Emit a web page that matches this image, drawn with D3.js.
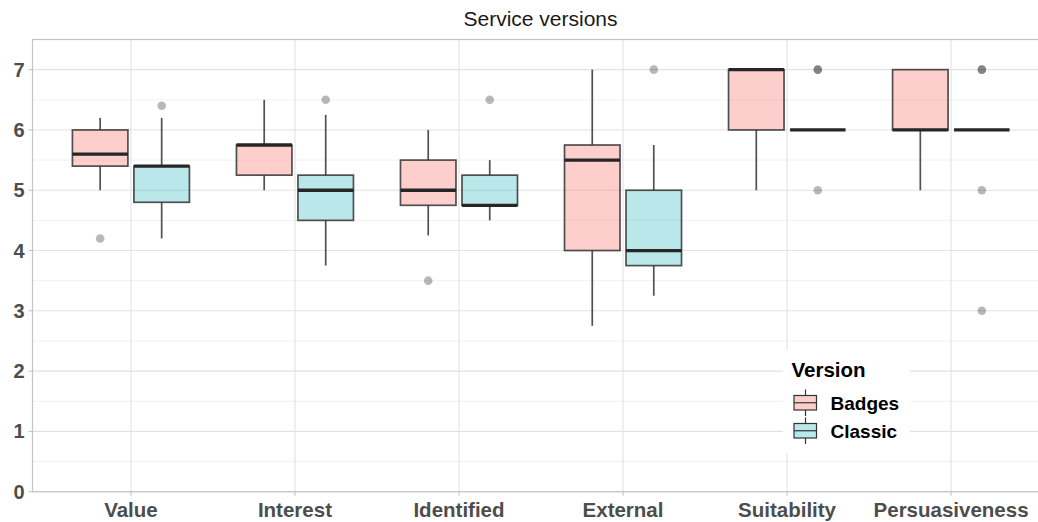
<!DOCTYPE html>
<html>
<head>
<meta charset="utf-8">
<script src="https://cdn.jsdelivr.net/npm/d3@7"></script>
<style>
  body { margin: 0; background: #fff; }
  svg { display: block; font-family: "Liberation Sans", Arial, sans-serif; }
</style>
</head>
<body>
<svg id="chart" width="1038" height="522"></svg>
<script>
// categories and groups
const categories = ["Value", "Interest", "Identified", "External", "Suitability", "Persuasiveness"];
const versions = ["Badges", "Classic"];
const yTicks = [0, 1, 2, 3, 4, 5, 6, 7];

// box stats per category: [lower whisker, Q1, median, Q3, upper whisker]
const badgesStats = [
    [5.0, 5.4, 5.6, 6.0, 6.2],
    [5.0, 5.25, 5.75, 5.75, 6.5],
    [4.25, 4.75, 5.0, 5.5, 6.0],
    [2.75, 4.0, 5.5, 5.75, 7.0],
    [5.0, 6.0, 7.0, 7.0, 7.0],
    [5.0, 6.0, 6.0, 7.0, 7.0]
];
const classicStats = [
    [4.2, 4.8, 5.4, 5.4, 6.2],
    [3.75, 4.5, 5.0, 5.25, 6.25],
    [4.5, 4.75, 4.75, 5.25, 5.5],
    [3.25, 3.75, 4.0, 5.0, 5.75],
    [6.0, 6.0, 6.0, 6.0, 6.0],
    [6.0, 6.0, 6.0, 6.0, 6.0]
];
const badgesOutliers = [[4.2], [], [3.5], [], [], []];
const classicOutliers = [[6.4], [6.5], [6.5], [7.0], [7.0, 7.0, 5.0], [7.0, 7.0, 5.0, 3.0]];

const fills = { Badges: "rgba(248,118,109,0.35)", Classic: "rgba(0,170,178,0.27)" };

const svg = d3.select("#chart");
const panel = { left: 32.5, right: 1049.5, top: 39.5, bottom: 491.7 };

const x = d3.scalePoint().domain(categories).range([panel.left, panel.right]).padding(0.6);
const y = d3.scaleLinear().domain([0, 7.5]).range([panel.bottom, panel.top]);
const step = x.step();
const dodge = step * 0.75 / 4;
const boxW = 55.5;

// grid
const grid = svg.append("g");
d3.range(0.5, 7.5, 1).forEach(v => {
    grid.append("line").attr("x1", panel.left).attr("x2", panel.right)
        .attr("y1", y(v)).attr("y2", y(v)).attr("stroke", "#eeeeee").attr("stroke-width", 0.8);
});
yTicks.forEach(v => {
    grid.append("line").attr("x1", panel.left).attr("x2", panel.right)
        .attr("y1", y(v)).attr("y2", y(v)).attr("stroke", "#e2e2e2").attr("stroke-width", 1.1);
});
categories.forEach(c => {
    grid.append("line").attr("x1", x(c)).attr("x2", x(c))
        .attr("y1", panel.top).attr("y2", panel.bottom).attr("stroke", "#e2e2e2").attr("stroke-width", 1.1);
});

// panel border
svg.append("rect").attr("x", panel.left).attr("y", panel.top)
    .attr("width", panel.right - panel.left).attr("height", panel.bottom - panel.top)
    .attr("fill", "none").attr("stroke", "#c4c4c4").attr("stroke-width", 1.2);

// boxes
const series = [
    { name: "Badges", stats: badgesStats, outliers: badgesOutliers, off: -dodge },
    { name: "Classic", stats: classicStats, outliers: classicOutliers, off: dodge }
];
const boxG = svg.append("g");
series.forEach(s => {
    categories.forEach((c, i) => {
        const [lo, q1, med, q3, hi] = s.stats[i];
        const cx = x(c) + s.off;
        const g = boxG.append("g");
        g.append("line").attr("x1", cx).attr("x2", cx).attr("y1", y(q3)).attr("y2", y(hi))
            .attr("stroke", "#333").attr("stroke-width", 1.7).attr("stroke-opacity", 0.85);
        g.append("line").attr("x1", cx).attr("x2", cx).attr("y1", y(q1)).attr("y2", y(lo))
            .attr("stroke", "#333").attr("stroke-width", 1.7).attr("stroke-opacity", 0.85);
        g.append("rect").attr("x", cx - boxW / 2).attr("y", y(q3))
            .attr("width", boxW).attr("height", Math.max(0, y(q1) - y(q3)))
            .attr("fill", fills[s.name]).attr("stroke", "#333").attr("stroke-opacity", 0.85)
            .attr("stroke-width", 1.7);
        g.append("line").attr("x1", cx - boxW / 2).attr("x2", cx + boxW / 2)
            .attr("y1", y(med)).attr("y2", y(med))
            .attr("stroke", "#262626").attr("stroke-width", 3.3);
        s.outliers[i].forEach(v => {
            g.append("circle").attr("cx", cx).attr("cy", y(v)).attr("r", 4.3)
                .attr("fill", "#000").attr("fill-opacity", 0.28);
        });
    });
});

// y axis
const yAxis = svg.append("g");
yTicks.forEach(v => {
    yAxis.append("line").attr("x1", panel.left - 4).attr("x2", panel.left)
        .attr("y1", y(v)).attr("y2", y(v)).attr("stroke", "#c4c4c4").attr("stroke-width", 1.1);
    yAxis.append("text").attr("x", 24.5).attr("y", y(v) + 7)
        .attr("text-anchor", "end").attr("font-size", 20).attr("font-weight", "bold")
        .attr("fill", "#4d4d4d").text(v);
});

// x axis
const xAxis = svg.append("g");
categories.forEach(c => {
    xAxis.append("line").attr("x1", x(c)).attr("x2", x(c))
        .attr("y1", panel.bottom).attr("y2", panel.bottom + 4).attr("stroke", "#c4c4c4").attr("stroke-width", 1.1);
    xAxis.append("text").attr("x", x(c)).attr("y", 516.5)
        .attr("text-anchor", "middle").attr("font-size", 20.5).attr("font-weight", "bold")
        .attr("fill", "#4d4d4d").text(c);
});

// title
svg.append("text").attr("x", 540.5).attr("y", 26).attr("text-anchor", "middle")
    .attr("font-size", 21).attr("fill", "#1a1a1a").text("Service versions");

// legend
const lg = svg.append("g").attr("transform", "translate(783,350)");
lg.append("rect").attr("width", 127).attr("height", 103).attr("fill", "#fff");
lg.append("text").attr("x", 8.5).attr("y", 26.7).attr("font-size", 20.5).attr("font-weight", "bold")
    .attr("fill", "#000").text("Version");
versions.forEach((v, i) => {
    const ky = 45.5 + i * 28;
    const k = lg.append("g").attr("transform", `translate(11,${ky})`);
    k.append("line").attr("x1", 11.5).attr("x2", 11.5).attr("y1", -6).attr("y2", 20.5)
        .attr("stroke", "#333").attr("stroke-width", 1.2);
    k.append("rect").attr("x", 0).attr("y", 0).attr("width", 22.5).attr("height", 14.5)
        .attr("fill", "#fff");
    k.append("rect").attr("x", 0).attr("y", 0).attr("width", 22.5).attr("height", 14.5)
        .attr("fill", fills[v]).attr("stroke", "#333").attr("stroke-width", 1.2);
    k.append("line").attr("x1", 0).attr("x2", 22.5).attr("y1", 7.25).attr("y2", 7.25)
        .attr("stroke", "#333").attr("stroke-width", 1.2);
    lg.append("text").attr("x", 47.5).attr("y", ky + 14.5)
        .attr("font-size", 19).attr("font-weight", "bold").attr("fill", "#000").text(v);
});
</script>
</body>
</html>
